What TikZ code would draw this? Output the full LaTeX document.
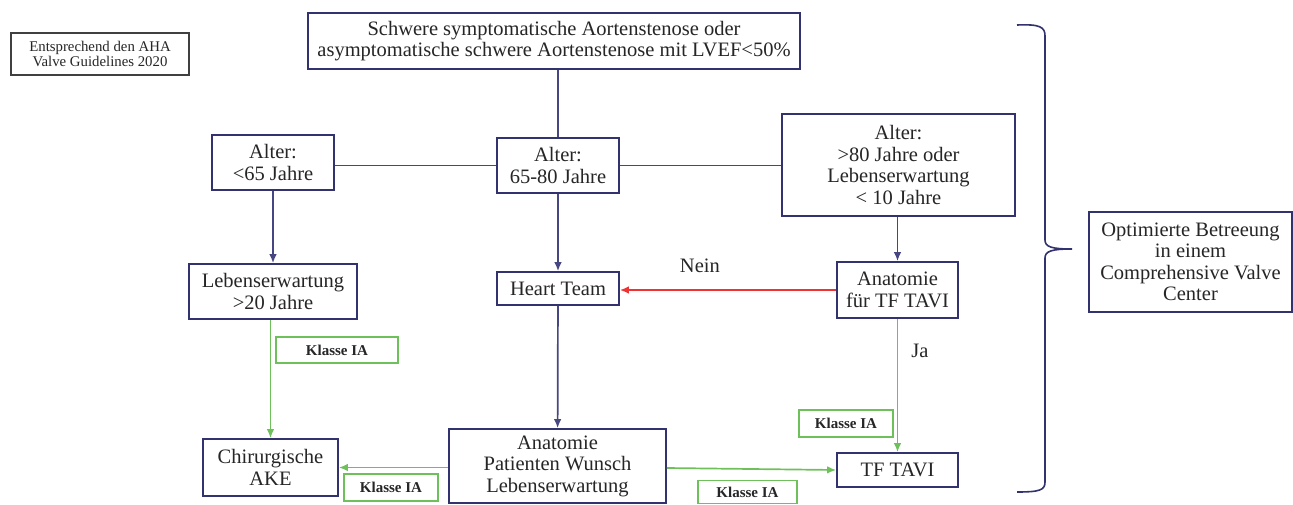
\documentclass[tikz,border=0pt]{standalone}
\usepackage{fontspec}
\setmainfont{Liberation Serif}
\usetikzlibrary{arrows.meta}
\definecolor{boxblue}{RGB}{50,50,110}
\definecolor{lineblue}{RGB}{70,70,130}
\definecolor{klassegreen}{RGB}{110,192,90}
\definecolor{neinred}{RGB}{240,50,50}
\newcommand{\klassebox}[4]
{\node [klasse,minimum width=#3,minimum height=#4] (#1) at (#2) {Klasse IA};
}
\begin{document}
\begin{tikzpicture}[x={(1pt,0)},y={(0,-1pt)}, >={Latex[length=9pt,width=7.5pt]},
	box/.style={draw=boxblue,line width=1.6pt,fill=white,align=center,inner sep=0pt,text=black!85,font=\fontsize{20.5}{21.5}\selectfont},
	klasse/.style={draw=klassegreen,line width=1.5pt,inner sep=0pt,text=black!85,font=\bfseries\fontsize{15}{16}\selectfont},
	blueline/.style={draw=lineblue,line width=1.7pt},
	greenline/.style={draw=klassegreen,line width=1.7pt},
	label/.style={inner sep=0pt,text=black!85,font=\fontsize{20.5}{21.5}\selectfont}]

\useasboundingbox (0,0) rectangle (1293,504);

\node [box,draw=black!75,line width=1.3pt,minimum width=178pt,minimum height=42pt,font=\fontsize{14.8}{15.5}\selectfont] (note) at (100,54) {Entsprechend den AHA\\Valve Guidelines 2020};

\node [box,minimum width=492pt,minimum height=56pt] (top) at (554,41) {Schwere symptomatische Aortenstenose oder\\asymptomatische schwere Aortenstenose mit LVEF<50\%};

% age groups
\node [box,minimum width=122pt,minimum height=55pt] (a65) at (273,162.5) {Alter:\\<65 Jahre};
\node [box,minimum width=122pt,minimum height=55pt] (a6580) at (558,165.5) {Alter:\\65-80 Jahre};
\node [box,minimum width=233pt,minimum height=102pt] (a80) at (898.5,165) {Alter:\\>80 Jahre oder\\Lebenserwartung\\< 10 Jahre};

\node [box,minimum width=168pt,minimum height=55pt] (leb20) at (273,291.5) {Lebenserwartung\\>20 Jahre};
\node [box,minimum width=122pt,minimum height=33pt] (heart) at (558,288.5) {Heart Team};
\node [box,minimum width=121pt,minimum height=56pt] (anat) at (897.5,290) {Anatomie\\für TF TAVI};

% decisions
\node [box,minimum width=217pt,minimum height=74pt] (bottom) at (557.5,466) {Anatomie\\Patienten Wunsch\\Lebenserwartung};
\node [box,minimum width=135pt,minimum height=57pt] (chir) at (270.5,467.5) {Chirurgische\\AKE};
\node [box,minimum width=121pt,minimum height=34pt] (tftavi) at (897.5,470) {TF TAVI};

\node [box,minimum width=203pt,minimum height=100pt] (cvc) at (1190.5,262) {Optimierte Betreeung\\in einem\\Comprehensive Valve\\Center};

\klassebox{k1}{337,350}{122pt}{26pt}
\klassebox{k2}{391,487.5}{94pt}{27pt}
\klassebox{k3}{747.5,492}{99pt}{23pt}
\klassebox{k4}{846,423.5}{94pt}{27pt}

\draw [blueline] (top.south -| a6580) -- (a6580);
\draw [blueline] (a6580.west) -- (a6580.west -| a65.east);
\draw [blueline] (a6580.east) -- (a6580.east -| a80.west);
\draw [blueline,->] (a65) -- (leb20);
\draw [blueline,->] (a6580) -- (heart);
\draw [blueline,->] (a80.south -| anat) -- (anat);
\draw [blueline,->] (heart) -- (bottom);
\draw [draw=neinred,line width=1.7pt,->] (anat.west) -- (anat.west -| heart.east) node [label,pos=0.63,yshift=24pt] {Nein};

\draw [greenline,->] (leb20.south -| chir) -- (chir);
\draw [greenline,->] (bottom.west |- chir) -- (chir.east);
\draw [greenline,->] ([yshift=-2pt]bottom.east) -- (tftavi.west);
\draw [greenline,->] (anat) -- (tftavi) node [label,pos=0.24,right=13pt] {Ja};

% brace
\draw [boxblue,line width=1.6pt] (1017,25) .. controls (1040,24) and (1045,27) .. (1045,36) -- (1045,240) .. controls (1045,247) and (1052,249) .. (1072,249) .. controls (1052,249) and (1045,251) .. (1045,258) -- (1045,482) .. controls (1045,490) and (1040,492) .. (1017,492);

\end{tikzpicture}
\end{document}
